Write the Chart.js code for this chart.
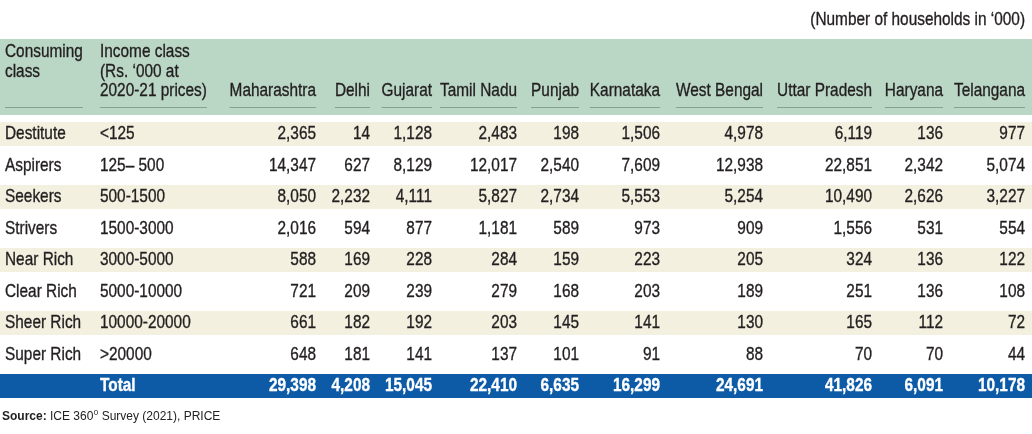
<!DOCTYPE html>
<html>
<head>
<meta charset="utf-8">
<script src="https://cdn.jsdelivr.net/npm/chart.js@4.4.1/dist/chart.umd.min.js"></script>
<style>
  html, body { margin: 0; padding: 0; background: #fff; }
</style>
</head>
<body>
<canvas id="tableChart" width="1032" height="434"></canvas>
<script>
// table data
const unitNote = "(Number of households in \u2018000)";
const classes = ["Destitute", "Aspirers", "Seekers", "Strivers", "Near Rich", "Clear Rich", "Sheer Rich", "Super Rich"];
const incomeClasses = ["<125", "125\u2013 500", "500-1500", "1500-3000", "3000-5000", "5000-10000", "10000-20000", ">20000"];
const states = ["Maharashtra", "Delhi", "Gujarat", "Tamil Nadu", "Punjab", "Karnataka", "West Bengal", "Uttar Pradesh", "Haryana", "Telangana"];

const maharashtra = [2365, 14347, 8050, 2016, 588, 721, 661, 648];
const delhi = [14, 627, 2232, 594, 169, 209, 182, 181];
const gujarat = [1128, 8129, 4111, 877, 228, 239, 192, 141];
const tamilNadu = [2483, 12017, 5827, 1181, 284, 279, 203, 137];
const punjab = [198, 2540, 2734, 589, 159, 168, 145, 101];
const karnataka = [1506, 7609, 5553, 973, 223, 203, 141, 91];
const westBengal = [4978, 12938, 5254, 909, 205, 189, 130, 88];
const uttarPradesh = [6119, 22851, 10490, 1556, 324, 251, 165, 70];
const haryana = [136, 2342, 2626, 531, 136, 136, 112, 70];
const telangana = [977, 5074, 3227, 554, 122, 108, 72, 44];
const totals = [29398, 4208, 15045, 22410, 6635, 16299, 24691, 41826, 6091, 10178];

const stateValues = [maharashtra, delhi, gujarat, tamilNadu, punjab, karnataka, westBengal, uttarPradesh, haryana, telangana];

// layout
const W = 1032;
const colRight = [316, 370, 432, 517, 579, 660, 763, 872, 943, 1025];
const classX = 5;
const incomeX = 100;
const FONT = '"Liberation Sans", Arial, sans-serif';
const SQUEEZE = 0.81; // no condensed face installed, so narrow the sans by hand
const TEXT = "#231f20";
const HEADER_BG = "#bad7c6";
const STRIPE = "#f3f0e0";
const TOTAL_BG = "#0d5ba6";

const rowLabels = [...classes, "Total"];
const rowColors = rowLabels.map((r, i) => i === classes.length ? TOTAL_BG : (i % 2 === 0 ? STRIPE : "#ffffff"));

const fmt = (v) => v.toLocaleString("en-US");

function narrowText(ctx, text, x, y, align) {
  ctx.save();
  ctx.translate(x, y);
  ctx.scale(SQUEEZE, 1);
  ctx.textAlign = align;
  ctx.lineWidth = 0.35;
  ctx.strokeStyle = ctx.fillStyle;
  ctx.fillText(text, 0, 0);
  ctx.strokeText(text, 0, 0);
  ctx.restore();
}
const narrowWidth = (ctx, text) => ctx.measureText(text).width * SQUEEZE;

const tablePlugin = {
  id: "tablePlugin",
  beforeDraw(chart) {
    const ctx = chart.ctx;
    ctx.save();
    ctx.fillStyle = "#fff";
    ctx.fillRect(0, 0, chart.width, chart.height);
    ctx.fillStyle = HEADER_BG;
    ctx.fillRect(0, 39, chart.width, 76);
    ctx.restore();
  },
  afterDraw(chart) {
    const ctx = chart.ctx;
    const x = chart.scales.x;
    const y = chart.scales.y;
    ctx.save();
    ctx.textBaseline = "middle";
    ctx.fillStyle = TEXT;
    ctx.font = "19px " + FONT;

    // unit note
    narrowText(ctx, unitNote, x.getPixelForValue(1025), 20, "right");

    // header
    const lineY = [52, 72, 91];
    const underline = (x0, x1) => {
      ctx.save();
      ctx.strokeStyle = "rgba(70,90,80,0.45)";
      ctx.lineWidth = 1;
      ctx.beginPath();
      ctx.moveTo(x0, 107.5);
      ctx.lineTo(x1, 107.5);
      ctx.stroke();
      ctx.restore();
    };
    const h1 = ["Consuming", "class"];
    const h2 = ["Income class", "(Rs. \u2018000 at", "2020-21 prices)"];
    h1.forEach((t, i) => narrowText(ctx, t, classX, lineY[i], "left"));
    h2.forEach((t, i) => narrowText(ctx, t, incomeX, lineY[i], "left"));
    underline(classX, classX + Math.max(...h1.map(t => narrowWidth(ctx, t))));
    underline(incomeX, incomeX + Math.max(...h2.map(t => narrowWidth(ctx, t))));
    states.forEach((s, j) => {
      const r = x.getPixelForValue(colRight[j]);
      narrowText(ctx, s, r, lineY[2], "right");
      underline(r - narrowWidth(ctx, s), r);
    });

    // body rows
    classes.forEach((c, i) => {
      const cy = y.getPixelForValue(i);
      narrowText(ctx, c, classX, cy, "left");
      narrowText(ctx, incomeClasses[i], incomeX, cy, "left");
      stateValues.forEach((vals, j) => {
        narrowText(ctx, fmt(vals[i]), x.getPixelForValue(colRight[j]), cy, "right");
      });
    });

    // total row
    const ty = y.getPixelForValue(classes.length);
    ctx.fillStyle = "#ffffff";
    ctx.font = "bold 19px " + FONT;
    narrowText(ctx, "Total", incomeX, ty, "left");
    totals.forEach((v, j) => narrowText(ctx, fmt(v), x.getPixelForValue(colRight[j]), ty, "right"));

    // source
    ctx.textAlign = "left";
    ctx.fillStyle = "#222";
    ctx.font = "bold 12px " + FONT;
    ctx.fillText("Source:", 2, 417);
    let sx = 2 + ctx.measureText("Source: ").width;
    ctx.font = "12px " + FONT;
    ctx.fillText("ICE 360", sx, 417);
    sx += ctx.measureText("ICE 360").width + 0.5;
    ctx.font = "8px " + FONT;
    ctx.fillText("0", sx, 413);
    sx += ctx.measureText("0").width;
    ctx.font = "12px " + FONT;
    ctx.fillText(" Survey (2021), PRICE", sx, 417);
    ctx.restore();
  }
};

new Chart(document.getElementById("tableChart"), {
  type: "bar",
  data: {
    labels: rowLabels,
    datasets: [
      {
        label: "rows",
        data: rowLabels.map(() => [0, W]),
        backgroundColor: rowColors,
        borderWidth: 0,
        barPercentage: 24 / 31.5,
        categoryPercentage: 1,
      },
    ],
  },
  options: {
    indexAxis: "y",
    responsive: false,
    animation: false,
    devicePixelRatio: 1,
    layout: { padding: { top: 118.25, bottom: 32.25, left: 0, right: 0 } },
    scales: {
      x: { type: "linear", min: 0, max: W, display: false },
      y: { type: "category", display: false },
    },
    plugins: {
      legend: { display: false },
      tooltip: { enabled: false },
    },
  },
  plugins: [tablePlugin],
});
</script>
</body>
</html>
